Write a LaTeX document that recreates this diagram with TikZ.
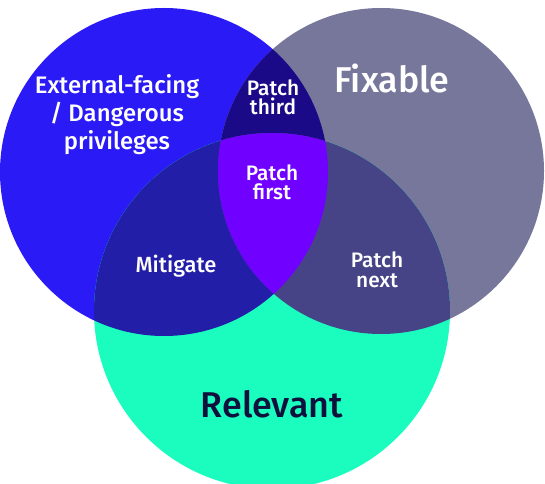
\documentclass[tikz,border=0pt]{standalone}
\usepackage{fontspec}
\setmainfont{Fira Sans Medium}
\usepackage{tikz}
\usetikzlibrary{positioning}

\definecolor{extblue}{HTML}{2A1AF5}
\definecolor{fixgray}{HTML}{77779B}
\definecolor{relteal}{HTML}{1AFDBE}
\definecolor{thirdnavy}{HTML}{1B0A88}
\definecolor{mitblue}{HTML}{231EA8}
\definecolor{nextgray}{HTML}{464486}
\definecolor{firstviolet}{HTML}{7000FF}
\definecolor{relink}{HTML}{10103C}

\tikzset{
  label small/.style={text=white, align=center, anchor=base, font=\fontsize{21}{20}\selectfont},
  label mid/.style={text=white, align=center, anchor=base, font=\fontsize{22}{28.5}\selectfont},
  label big/.style={align=center, anchor=base, font=\fontsize{36}{40}\selectfont},
}

\begin{document}
\begin{tikzpicture}[x=1bp, y=-1bp]
    \useasboundingbox (0, 0) rectangle (545, 484);

    % Circle centres
    \coordinate (ext) at (164, 172);
    \coordinate (fix) at (381, 171);
    \coordinate (rel) at (272, 311);

    % Single sets
    \fill[extblue] (ext) circle[radius=164];
    \fill[fixgray] (fix) circle[radius=163];
    \fill[relteal] (rel) circle[radius=178];

    % Pairwise overlaps
    \begin{scope}
        \clip (ext) circle[radius=164];
        \fill[thirdnavy] (fix) circle[radius=163];
        \fill[mitblue] (rel) circle[radius=178];
    \end{scope}
    \begin{scope}
        \clip (fix) circle[radius=163];
        \fill[nextgray] (rel) circle[radius=178];
    \end{scope}

    % Centre overlap
    \begin{scope}
        \clip (ext) circle[radius=164];
        \clip (fix) circle[radius=163];
        \fill[firstviolet] (rel) circle[radius=178];
    \end{scope}

    % Labels (base = last line)
    \node[label mid, font=\fontsize{24}{28.5}\selectfont] (external) at (117, 150) {External-facing\\/ Dangerous\\privileges};
    \node[label big, text=white] (fixable) at (392, 93) {Fixable};
    \node[label big, text=relink] (relevant) at (272, 417) {Relevant};
    \node[label small] (third) at (273, 115) {Patch\\third};
    \node[label small] (first) at (272, 200) {Patch\\first};
    \node[label mid] (mitigate) at (176, 272) {Mitigate};
    \node[label small] (next) at (377, 287) {Patch\\next};
\end{tikzpicture}
\end{document}
